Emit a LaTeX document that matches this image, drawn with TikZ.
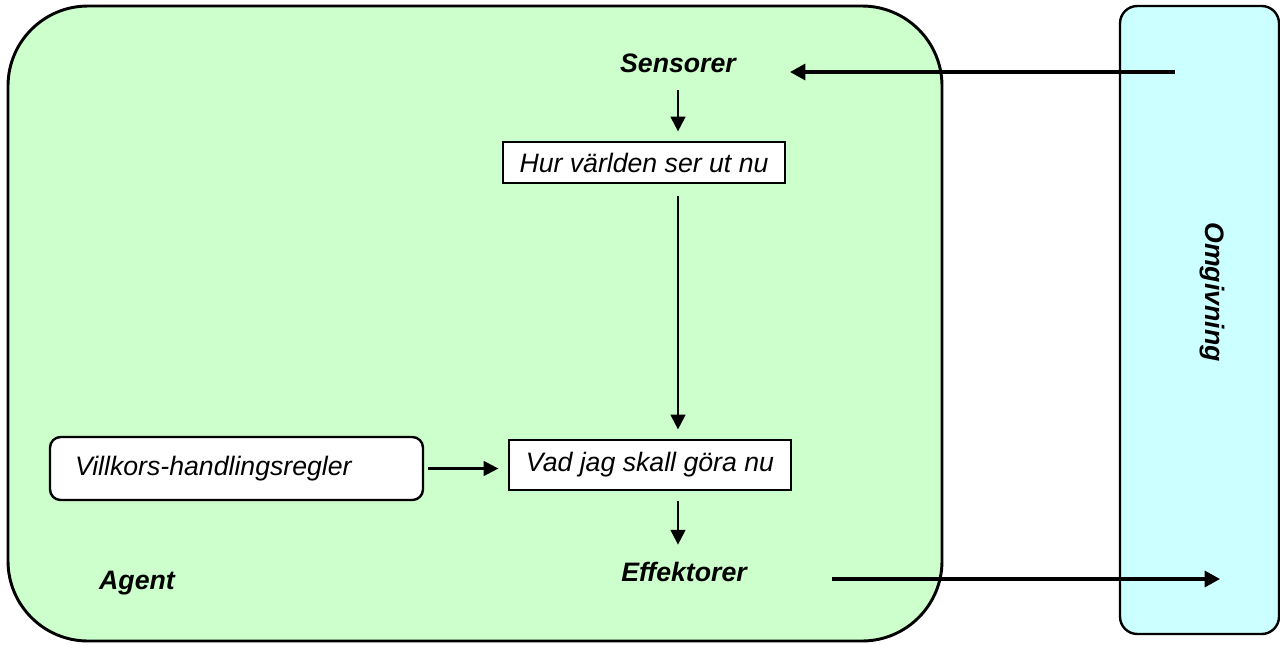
\documentclass[tikz,border=0pt]{standalone}
\usepackage{fontspec}
\setmainfont{Liberation Sans}
\usetikzlibrary{arrows.meta}
\definecolor{agentgreen}{HTML}{CCFFCC}
\definecolor{envcyan}{HTML}{CCFFFF}
\begin{document}
\begin{tikzpicture}[x=0.75pt,y=-0.75pt,
  every node/.style={font=\fontsize{20pt}{24pt}\selectfont\itshape},
  lbl/.style={font=\fontsize{20pt}{24pt}\selectfont\bfseries\itshape, inner sep=0pt},
  statebox/.style={draw, fill=white, line width=1.9pt, minimum width=211.5pt, inner sep=0pt},
  rulebox/.style={draw, fill=white, line width=1.8pt, rounded corners=8pt,
    text width=242.25pt, align=left, inner xsep=18.75pt, minimum height=47.25pt},
  flow/.style={line width=1.6pt, -{Triangle[length=11pt,width=11pt]}},
  bigflow/.style={line width=2.4pt, -{Triangle[length=11.5pt,width=12pt]}}]
  \useasboundingbox (0,0) rectangle (1280,644);
  % agent and environment regions
  \draw[fill=agentgreen, line width=2.2pt, rounded corners=60pt] (8,6) rectangle (942,641);
  \draw[fill=envcyan, line width=1.8pt, rounded corners=13pt] (1120,6) rectangle (1279,634);
  % labels
  \node[lbl] (sens) at (678,63) {Sensorer};
  \node[lbl] (eff) at (684,572) {Effektorer};
  \node[lbl] (agent) at (137,583) {Agent};
  \node[lbl, rotate=-90] (env) at (1212,292) {Omgivning};
  % inner boxes
  \node[statebox, minimum height=30.75pt] (hur) at (644,162.5) {Hur världen ser ut nu};
  \node[statebox, minimum height=37.5pt] (vad) at (650,465) {Vad jag skall göra nu};
  \node[rulebox] (rules) at (236.5,468.5) {Villkors-handlingsregler};
  % free ends outside the agent
  \coordinate (envin) at (1175,72);
  \coordinate (sensin) at (790,72);
  \coordinate (effout) at (832,579);
  \coordinate (envout) at (1220,579);
  % connectors, the vertical ones all on the sensor column
  \draw[flow, shorten <=13pt, shorten >=7pt] (sens.south) -- (hur.north -| sens);
  \draw[flow, shorten <=9pt, shorten >=7pt] (hur.south -| sens) -- (vad.north -| sens);
  \draw[flow, shorten <=3pt, shorten >=7pt] (rules.east) -- (rules.east -| vad.west);
  \draw[flow, shorten <=7pt, shorten >=13pt] (vad.south -| sens) -- (eff.north -| sens);
  \draw[bigflow] (envin) -- (sensin);
  \draw[bigflow] (effout) -- (envout);
\end{tikzpicture}
\end{document}
